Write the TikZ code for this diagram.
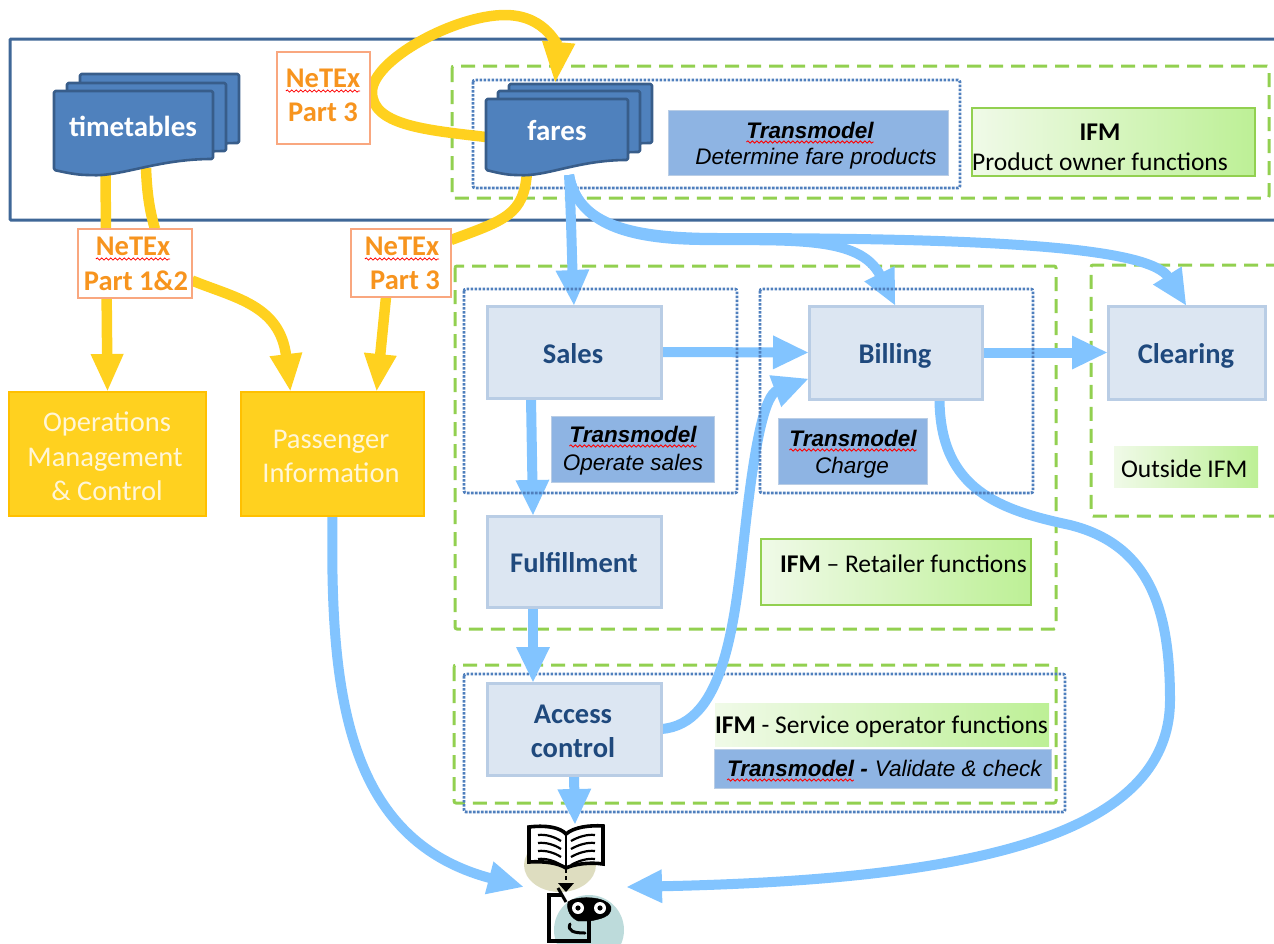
\documentclass[tikz,border=0pt]{standalone}
\usepackage{fontspec}
\setmainfont{Carlito}
\newfontfamily\arialf{Liberation Sans}
\usetikzlibrary{arrows.meta,decorations.pathmorphing,backgrounds}
\definecolor{blueA}{HTML}{82C4FF}
\definecolor{yellowA}{HTML}{FFD11F}
\definecolor{yellowB}{HTML}{FFC000}
\definecolor{frameB}{HTML}{3F6797}
\definecolor{dashG}{HTML}{92D050}
\definecolor{dotB}{HTML}{4F7FBD}
\definecolor{procF}{HTML}{DCE6F2}
\definecolor{procD}{HTML}{B9CDE5}
\definecolor{tmF}{HTML}{8EB4E3}
\definecolor{titleB}{HTML}{1F497D}
\definecolor{orangeT}{HTML}{F7941E}
\definecolor{orangeB}{HTML}{F9A77F}
\definecolor{gradL}{HTML}{F0FAE8}
\definecolor{gradR}{HTML}{BDF096}
\definecolor{docF}{HTML}{4F81BD}
\definecolor{docD}{HTML}{385D8A}
\definecolor{paleY}{HTML}{FFF6D8}
\definecolor{iconO}{HTML}{DEDDC0}
\definecolor{iconT}{HTML}{BDDBDB}
\tikzset{
  x=1pt,y=-1pt,
  every node/.style={inner sep=0pt,outer sep=0pt},
  greendash/.style={draw=dashG,line width=3pt,dash pattern=on 14pt off 8pt,rounded corners=2pt},
  bluedot/.style={draw=dotB,line width=2.8pt,dash pattern=on 2.6pt off 1.4pt,rounded corners=2pt},
  proc/.style={draw=procD,fill=procF,line width=3pt},
  yelbox/.style={draw=yellowB,fill=yellowA,line width=2.5pt},
  note/.style={draw=orangeB,fill=white,line width=2.5pt},
  tmbox/.style={fill=tmF,draw=procD,line width=1pt},
  ifmbox/.style={left color=gradL,right color=gradR,draw=dashG,line width=2.5pt},
  ifmsoft/.style={left color=gradL,right color=gradR},
  ghost/.style={},
  txt/.style={anchor=base},
  txtw/.style={anchor=base west},
  proct/.style={txt,font=\fontsize{28.5}{28.5}\selectfont\bfseries,text=titleB},
  whitet/.style={txt,font=\fontsize{29}{29}\selectfont\bfseries,text=white},
  yelt/.style={txt,font=\fontsize{28.5}{28.5}\selectfont,text=paleY},
  notet/.style={txt,font=\fontsize{28.5}{28.5}\selectfont\bfseries,text=orangeT},
  tmt/.style={txt,font=\arialf\fontsize{22.5}{22.5}\selectfont\bfseries\itshape,text=black},
  tmi/.style={font=\arialf\fontsize{22.5}{22.5}\selectfont\itshape,text=black},
  ifmt/.style={font=\fontsize{25.5}{25.5}\selectfont,text=black},
  wavy/.style={draw=red,line width=0.8pt,decorate,decoration={snake,amplitude=1.1pt,segment length=4.5pt}},
  blueline/.style={draw=blueA,line width=10pt,-{Triangle[length=36pt,width=31pt]}},
  yelline/.style={draw=yellowA,line width=10.5pt,-{Triangle[length=38pt,width=30pt]}},
  yelplain/.style={draw=yellowA,line width=10.5pt},
  docshape/.style={fill=docF,draw=docD,line width=2.6pt,rounded corners=1.5pt,line join=round},
}
% \bx{style}{name}{x1}{y1}{x2}{y2}{text}
\newcommand\bx[7]{\node[#1,minimum width={#5-#3},minimum height={#6-#4},align=center] (#2) at ({(#3+#5)/2},{(#4+#6)/2}) {#7};}
% \docp{x1}{y1}{x2}{ybr}{ylow}
\newcommand\docp[5]{\draw[docshape] (#1,#2) -- (#3,#2) -- (#3,#4) .. controls ({#3-0.35*(#3-#1)},#4) and ({#1+0.42*(#3-#1)},{#5+2}) .. ({#1+0.22*(#3-#1)},#5) .. controls ({#1+0.14*(#3-#1)},#5) and ({#1+0.06*(#3-#1)},{#5-3}) .. (#1,{#5-5}) -- cycle;}
\newcommand\wav[1]{\draw[wavy] ([yshift=-4pt]#1.base west) -- ([yshift=-4pt]#1.base east);}
\begin{document}
\begin{tikzpicture}
\useasboundingbox (0,0) rectangle (1274,943);
% dotted boxes that lie over the arrows
\draw[bluedot] (464,289) rectangle (737,493);
\draw[bluedot] (760,289) rectangle (1033,493);
% stacked documents
\docp{80}{74}{239}{143}{160}
\docp{67}{83}{226}{151}{168}
\docp{54}{91}{213}{159}{175}
\docp{509}{84}{652}{143}{160}
\docp{498}{91}{640}{152}{168}
\docp{486}{99}{628}{160}{175}
% anchoring nodes (documents, icon)
\bx{ghost}{timetables}{54}{91}{213}{175}{}
\bx{ghost}{fares}{486}{99}{628}{175}{}
\bx{ghost}{icon}{524}{825}{626}{943}{}
% process boxes
\bx{proc}{sales}{487}{306}{661}{398}{}
\bx{proc}{billing}{809}{306}{982}{399}{}
\bx{proc}{clearing}{1108}{306}{1265}{399}{}
\bx{proc}{fulfil}{487}{516}{661}{607}{}
\bx{proc}{access}{487}{683}{661}{775}{}
\bx{yelbox}{ops}{9}{392}{206}{516}{}
\bx{yelbox}{pass}{241}{392}{424}{516}{}
\bx{note}{netA}{277}{52}{370}{144}{}
\bx{note}{netB}{78}{229}{192}{298}{}
\bx{note}{netC}{351}{229}{451}{297}{}
% frames and connectors beneath everything
\begin{pgfonlayer}{background}
\draw[frameB,line width=3pt,rounded corners=1pt] (1280,39) -- (10,39) -- (10,220) -- (1280,220);
\draw[greendash] (452,66) rectangle (1269,198);
\draw[bluedot] (473,80) rectangle (960,188);
\draw[greendash] (455,266) rectangle (1056,629);
\draw[greendash] (1280,265) -- (1091,265) -- (1091,516) -- (1280,516);
\draw[greendash] (454,665) rectangle (1056,803);
\draw[bluedot] (464,674) rectangle (1065,812);
% yellow connectors
\draw[yelline] ([xshift=-28pt]timetables.south) -- (ops.north);
\draw[yelplain] ([xshift=12.5pt,yshift=7pt]timetables.south) .. controls (147,195) and (150,212) .. ([xshift=20pt]netB.north);
\draw[yelline] ([yshift=-17pt]netB.east) .. controls (235,298) and (280,305) .. ([xshift=-42pt]pass.north);
\draw[yelline,-{Triangle[length=42pt,width=30pt]}] (fares.west) .. controls (425,130) and (372,125) .. (372,92) .. controls (372,60) and (455,15) .. (505,15) .. controls (548,15) and (558,50) .. ([xshift=-2pt,yshift=15pt]fares.north);
\draw[yelplain] ([xshift=-30pt,yshift=3pt]fares.south) .. controls (524,215) and (505,220) .. ([yshift=-11pt]netC.north east);
\draw[yelline] ([xshift=-15pt]netC.south) -- ([xshift=44pt]pass.north);
% blue connectors
\draw[blueline] ([xshift=12pt]fares.south) .. controls (571,210) and (572,260) .. (sales.north);
\draw[blueline] ([xshift=12pt]fares.south) .. controls (578,225) and (630,239) .. (700,240) .. controls (790,241) and (860,235) .. (billing.north);
\draw[blueline] ([xshift=12pt]fares.south) .. controls (578,225) and (630,238) .. (720,238) .. controls (1000,238) and (1150,248) .. (clearing.north);
\draw[blueline] (sales.east) -- (billing.west);
\draw[blueline] (billing.east) -- (clearing.west);
\draw[blueline] ([xshift=-43pt]sales.south) -- ([xshift=-41pt]fulfil.north);
\draw[blueline] ([xshift=-41pt]fulfil.south) -- ([xshift=-41pt]access.north);
\draw[blueline] (access.east) .. controls (725,725) and (735,620) .. (745,530) .. controls (755,440) and (765,395) .. ([yshift=-26pt]billing.west);
\draw[blueline] (access.south) -- (icon.north);
\draw[blueline] ([xshift=44pt]billing.south) .. controls (940,490) and (1000,510) .. (1070,525) .. controls (1150,545) and (1170,610) .. (1170,700) .. controls (1170,840) and (960,880) .. ([yshift=-3pt]icon.east);
\draw[blueline] (pass.south) .. controls (330,690) and (345,840) .. ([yshift=-3pt]icon.west);
\end{pgfonlayer}
% label boxes
\bx{tmbox}{tmA}{668}{110}{948}{175}{}
\bx{ifmbox}{ifmA}{972}{108}{1255}{176}{}
\bx{tmbox}{tmB}{551}{416}{714}{482}{}
\bx{tmbox}{tmC}{778}{418}{927}{484}{}
\bx{ifmbox}{ifmB}{761}{539}{1031}{605}{}
\bx{ifmsoft}{ifmC}{1114}{446}{1258}{487}{}
\bx{ifmsoft}{ifmD}{715}{703}{1049}{746}{}
\bx{tmbox}{tmD}{714}{749}{1051}{788}{}
% texts
\node[whitet] (ttimet) at (133,136) {timetables};
\node[whitet] (tfares) at (557,140) {fares};
\node[notet] (n1) at (323,87) {NeTEx}; \wav{n1}
\node[notet] (n1b) at (323,121) {Part 3};
\node[notet] (n2) at (133,255) {NeTEx}; \wav{n2}
\node[notet] (n2b) at (136,290) {Part 1\&2};
\node[notet] (n3) at (402,255) {NeTEx}; \wav{n3}
\node[notet] (n3b) at (405,289) {Part 3};
\node[proct] (tsales) at (573,363) {Sales};
\node[proct] (tbill) at (895,363) {Billing};
\node[proct] (tclear) at (1186,363) {Clearing};
\node[proct] (tfulf) at (574,572) {Fulfillment};
\node[proct] (tacc) at (573,723) {Access};
\node[proct] (tacc2) at (573,757) {control};
\node[yelt] (o1) at (107,431) {Operations};
\node[yelt] (o2) at (105,466) {Management};
\node[yelt] (o3) at (107,500) {\& Control};
\node[yelt] (p1) at (331,448) {Passenger};
\node[yelt] (p2) at (331,482) {Information};
\node[tmt] (ta) at (810,138) {Transmodel}; \wav{ta}
\node[tmi,txt] (tb) at (816,164) {Determine fare products};
\node[ifmt,txt] (ia) at (1100,140) {\textbf{IFM}};
\node[ifmt,txt] (ib) at (1100,170) {Product owner functions};
\node[tmt] (tc) at (633,442) {Transmodel}; \wav{tc}
\node[tmi,txt] (td) at (633,470) {Operate sales};
\node[tmt] (te) at (853,446) {Transmodel}; \wav{te}
\node[tmi,txt] (tf) at (852,473) {Charge};
\node[ifmt,txtw] (ic) at (780,572) {\textbf{IFM} -- Retailer functions};
\node[ifmt,txtw] (id) at (1121,477) {Outside IFM};
\node[ifmt,txtw] (ie) at (715,733) {\textbf{IFM} - Service operator functions};
\node[tmt,txtw] (tg) at (727,776) {Transmodel -};
\draw[wavy] ([yshift=-4pt]tg.base west) -- ([yshift=-4pt,xshift=-14pt]tg.base east);
\node[tmi,txtw] (th) at ([xshift=7pt]tg.base east) {Validate \& check};
% icon: reader and book
\fill[iconO] (560,865) ellipse [x radius=36,y radius=27];
\fill[iconT] (589,930) circle [radius=35];
\draw[fill=white,line width=3.6pt,line join=miter] (529,827) .. controls (545,825) and (560,827) .. (566,834) .. controls (574,827) and (590,825) .. (603,826) -- (603,864) .. controls (590,862) and (574,864) .. (566,868) .. controls (558,863) and (545,861) .. (529,862) -- cycle;
\draw[line width=2pt] (566,834) -- (566,866);
\foreach \yy in {0,8,16,24}{
  \draw[line width=2.2pt] (538,{835+\yy}) .. controls (546,{834+\yy}) and (555,{837+\yy}) .. (561,{841+\yy});
  \draw[line width=2.2pt] (595,{835+\yy}) .. controls (587,{834+\yy}) and (578,{837+\yy}) .. (571,{841+\yy});
}
\draw[line width=2.5pt,dash pattern=on 4pt off 3pt] (566,869) -- (566,884);
\fill (558,883) -- (574,883) -- (566,892) -- cycle;
\draw[line width=3.4pt,line join=miter] (562,895) -- (549,895) -- (549,941) -- (589,941) -- (589,921);
\draw[line width=3pt] (558,888) -- (566,902);
\draw[fill=black] (568,902) .. controls (574,896) and (606,895) .. (611,907) .. controls (612,917) and (600,919) .. (590,921) -- (578,921) .. controls (571,918) and (566,910) .. (568,902) -- cycle;
\fill[white] (578,908) circle [radius=6];
\fill[white] (600,908) circle [radius=6];
\fill (578,908) circle [radius=2.6];
\fill (600,908) circle [radius=2.6];
\draw[line width=3pt,line cap=round] (570,924) .. controls (567,931) and (574,933) .. (585,933);
\end{tikzpicture}
\end{document}
